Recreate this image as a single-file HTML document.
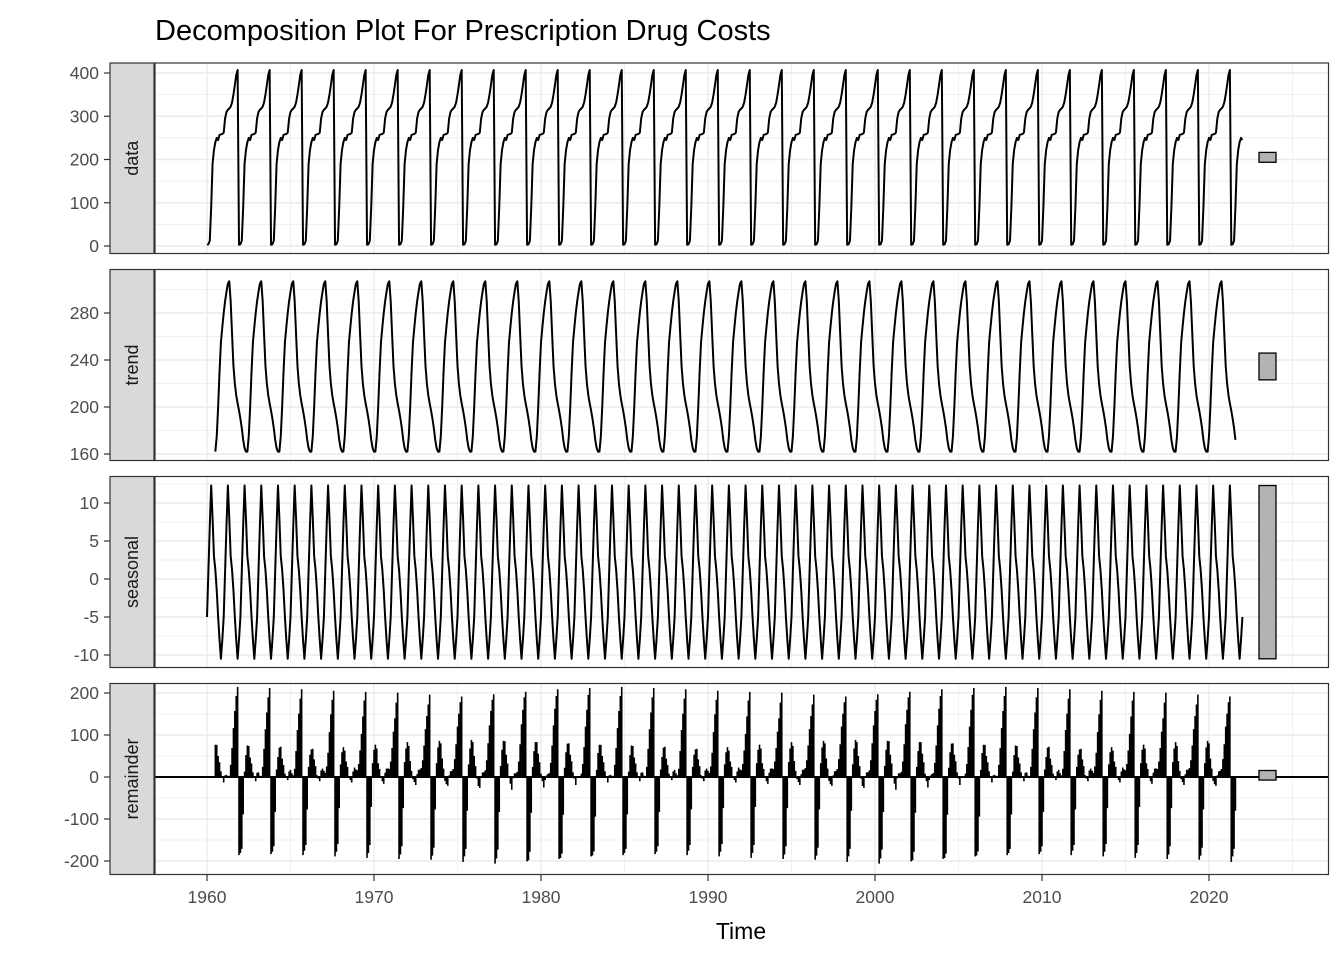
<!DOCTYPE html>
<html><head><meta charset="utf-8"><style>
body{margin:0;background:#fff;}
svg{display:block;font-family:"Liberation Sans",Arial,sans-serif;}
</style></head><body>
<svg id="chart" width="1344" height="960"></svg>
<script>
const dataCycle=[3,4,12,90,190,222,240,250,245,257,258,259,262,295,310,315,318,322,332,350,372,395,407];
const trendCycle=[197,190,182,172,165,162,162,175,200,230,255,268,280,290,298,305,307,290,262,235,220,210,203];
const seasonalMonths=[-5,1,7,12.3,8,3,1.2,-1.5,-5,-8,-10.5,-8];
const nMonths=745, trendStart=6, trendEnd=739;
const xTicks=[1960,1970,1980,1990,2000,2010,2020];
const dataTicks=[0,100,200,300,400];
const trendTicks=[160,200,240,280];
const seasTicks=[-10,-5,0,5,10];
const remTicks=[-200,-100,0,100,200];

const NS="http://www.w3.org/2000/svg";
const svg=document.getElementById('chart');
function el(t,a,p){const e=document.createElementNS(NS,t);for(const k in a)e.setAttribute(k,a[k]);(p||svg).appendChild(e);return e;}
const X0=155,X1=1328.5;
const xs=y=>207+(y-1960)*(1209-207)/60;
const panels=[
 {name:'data',top:63,bot:253.5,y:v=>246+(v-0)*(73-246)/400,ticks:dataTicks,minor:50},
 {name:'trend',top:269.5,bot:460.5,y:v=>454+(v-160)*(313-454)/120,ticks:trendTicks,minor:20},
 {name:'seasonal',top:476.5,bot:667.5,y:v=>579+(v)*(503-579)/10,ticks:seasTicks,minor:2.5},
 {name:'remainder',top:683.5,bot:874.5,y:v=>777+(v)*(693-777)/200,ticks:remTicks,minor:50}
];
const dataV=[],trendV=[],seasV=[],remV=[];
for(let i=0;i<nMonths;i++){dataV.push(dataCycle[i%23]);seasV.push(seasonalMonths[i%12]);
 if(i>=trendStart&&i<=trendEnd){trendV.push(trendCycle[i%23]);remV.push(dataCycle[i%23]-trendCycle[i%23]-seasonalMonths[i%12]);}else{trendV.push(null);remV.push(null);}}
const series=[dataV,trendV,seasV,remV];
const seasRange=Math.max(...seasonalMonths)-Math.min(...seasonalMonths);
el('text',{x:155,y:40,'font-size':29,fill:'#000',}).textContent='Decomposition Plot For Prescription Drug Costs';
panels.forEach((p,pi)=>{
 const g=el('g',{});
 
 
 el('rect',{x:X0,y:p.top,width:X1-X0,height:p.bot-p.top,fill:'#fff'},g);
 const lo=p.ticks[0]-p.minor, hi=p.ticks[p.ticks.length-1]+p.minor;
 for(let v=lo;v<=hi+1e-9;v+=p.minor){const yy=p.y(v);if(yy<p.top||yy>p.bot)continue;
  const major=p.ticks.some(tk=>Math.abs(tk-v)<1e-9);
  el('line',{x1:X0,x2:X1,y1:yy,y2:yy,stroke:'#ebebeb','stroke-width':major?1.4:0.7},g);}
 for(let yr=1955;yr<=2025;yr+=5){const xx=xs(yr);if(xx<X0||xx>X1)continue;
  el('line',{x1:xx,x2:xx,y1:p.top,y2:p.bot,stroke:'#ebebeb','stroke-width':yr%10===0?1.4:0.7},g);}
 const s=series[pi];
 if(p.name==='remainder'){
  el('line',{x1:X0,x2:X1,y1:p.y(0),y2:p.y(0),stroke:'#000','stroke-width':2},g);
  let d='';
  s.forEach((v,i)=>{if(v===null)return;const xx=xs(1960+i/12);d+=`M${xx.toFixed(2)},${p.y(0).toFixed(2)}V${p.y(v).toFixed(2)}`;});
  el('path',{d:d,stroke:'#000','stroke-width':1.6,fill:'none',},g);
 } else {
  let d='';let started=false;
  s.forEach((v,i)=>{if(v===null)return;const xx=xs(1960+i/12);d+=(started?'L':'M')+xx.toFixed(2)+','+p.y(v).toFixed(2);started=true;});
  el('path',{d:d,stroke:'#000','stroke-width':2,fill:'none','stroke-linejoin':'round',},g);
 }
 const vals=s.filter(v=>v!==null);const mid=(Math.max(...vals)+Math.min(...vals))/2;
 const yA=p.y(mid+seasRange/2),yB=p.y(mid-seasRange/2);
 el('rect',{x:1259,y:Math.min(yA,yB),width:17,height:Math.abs(yB-yA),fill:'#b3b3b3',stroke:'#000','stroke-width':1.3,},g);
 el('rect',{x:X0,y:p.top,width:X1-X0,height:p.bot-p.top,fill:'none',stroke:'#333','stroke-width':1.2},g);
 el('rect',{x:110,y:p.top,width:44,height:p.bot-p.top,fill:'#d9d9d9',stroke:'#333','stroke-width':1.2,},g);
 const cy=(p.top+p.bot)/2;
 el('text',{x:132,y:cy,transform:`rotate(-90 132 ${cy})`,'text-anchor':'middle','dominant-baseline':'central','font-size':18,fill:'#1a1a1a',},g).textContent=p.name;
 p.ticks.forEach(tk=>{const yy=p.y(tk);
  el('line',{x1:104,x2:110,y1:yy,y2:yy,stroke:'#333','stroke-width':1.2},g);
  el('text',{x:99,y:yy+6,'text-anchor':'end','font-size':17.5,fill:'#4d4d4d',},g).textContent=tk;});
});
xTicks.forEach(yr=>{const xx=xs(yr);
 el('line',{x1:xx,x2:xx,y1:874.5,y2:881,stroke:'#333','stroke-width':1.2});
 el('text',{x:xx,y:903,'text-anchor':'middle','font-size':17.5,fill:'#4d4d4d',}).textContent=yr;});
el('text',{x:741,y:939,'text-anchor':'middle','font-size':23,fill:'#000',}).textContent='Time';
</script>
</body></html>
